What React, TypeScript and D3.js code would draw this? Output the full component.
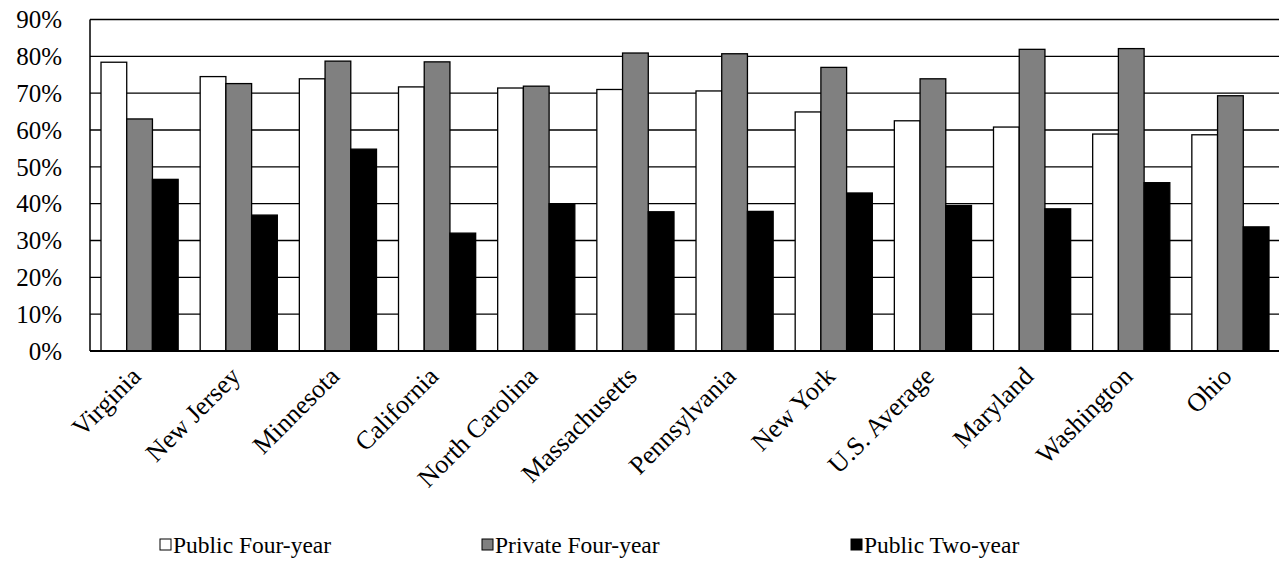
import React, { useEffect, useRef } from 'react'
import * as d3 from 'd3'

const states = ['Virginia', 'New Jersey', 'Minnesota', 'California', 'North Carolina', 'Massachusetts',
  'Pennsylvania', 'New York', 'U.S. Average', 'Maryland', 'Washington', 'Ohio']
const publicFour = [78.4, 74.5, 73.9, 71.7, 71.4, 71.0, 70.6, 64.9, 62.5, 60.8, 58.9, 58.7]
const privateFour = [63.0, 72.6, 78.7, 78.5, 71.9, 80.9, 80.7, 77.0, 73.9, 81.9, 82.1, 69.3]
const publicTwo = [46.6, 36.9, 54.8, 32.0, 40.0, 37.8, 37.9, 42.9, 39.5, 38.6, 45.7, 33.7]
const seriesNames = ['Public Four-year', 'Private Four-year', 'Public Two-year']
const seriesColors = ['#ffffff', '#808080', '#000000']
const yTicks = [0, 10, 20, 30, 40, 50, 60, 70, 80, 90]

const FONT = '"Liberation Serif", "Times New Roman", serif'

export default function App () {
  const ref = useRef<SVGSVGElement>(null)

  useEffect(() => {
    const W = 1279, H = 573
    const margin = { top: 19.5, right: -1, bottom: 222, left: 90 }
    const width = W - margin.left - margin.right
    const height = H - margin.top - margin.bottom

    const svg = d3.select(ref.current)
    svg.selectAll('*').remove()
    const g = svg.append('g').attr('transform', `translate(${margin.left},${margin.top})`)

    const x = d3.scaleBand().domain(states).range([0, width]).paddingInner(0.222).paddingOuter(0.111)
    const xs = d3.scaleBand().domain(seriesNames).range([0, x.bandwidth()])
    const y = d3.scaleLinear().domain([0, 90]).range([height, 0])

    // gridlines
    g.selectAll('.grid').data(yTicks.slice(1)).enter().append('line')
      .attr('x1', 0).attr('x2', width + 2)
      .attr('y1', d => y(d)).attr('y2', d => y(d))
      .attr('stroke', '#000').attr('stroke-width', 1.4)

    // y labels
    g.selectAll('.ylab').data(yTicks).enter().append('text')
      .attr('x', -28).attr('y', d => y(d)).attr('dy', '0.35em')
      .attr('text-anchor', 'end').attr('font-family', FONT).attr('font-size', 25)
      .text(d => d + '%')

    const all = [publicFour, privateFour, publicTwo]
    all.forEach((vals, si) => {
      g.selectAll('.bar' + si).data(vals).enter().append('rect')
        .attr('x', (d, i) => (x(states[i]) as number) + (xs(seriesNames[si]) as number))
        .attr('y', d => y(d))
        .attr('width', xs.bandwidth())
        .attr('height', d => height - y(d))
        .attr('fill', seriesColors[si])
        .attr('stroke', '#000').attr('stroke-width', 1.3)
    })

    // axes lines
    g.append('line').attr('x1', 0).attr('x2', 0).attr('y1', 0).attr('y2', height)
      .attr('stroke', '#000').attr('stroke-width', 1.5)
    g.append('line').attr('x1', 0).attr('x2', width + 2).attr('y1', height).attr('y2', height)
      .attr('stroke', '#000').attr('stroke-width', 2)

    // category labels
    g.selectAll('.xlab').data(states).enter().append('text')
      .attr('transform', d => `translate(${(x(d) as number) + x.bandwidth() / 2 - 10},${height + 14}) rotate(-45)`)
      .attr('text-anchor', 'end').attr('dy', '0.7em')
      .attr('font-family', FONT).attr('font-size', 26)
      .text(d => d)

    // legend
    const legendX = [160, 482, 851]
    const legend = svg.append('g')
    seriesNames.forEach((name, i) => {
      legend.append('rect').attr('x', legendX[i]).attr('y', 539).attr('width', 11).attr('height', 11)
        .attr('fill', seriesColors[i]).attr('stroke', '#000').attr('stroke-width', 1)
      legend.append('text').attr('x', legendX[i] + 13).attr('y', 553)
        .attr('font-family', FONT).attr('font-size', 23.5).text(name)
    })
  }, [])

  return (
    <svg ref={ref} width={1279} height={573}
      style={{ position: 'absolute', left: 0, top: 0, background: '#fff' }} />
  )
}
